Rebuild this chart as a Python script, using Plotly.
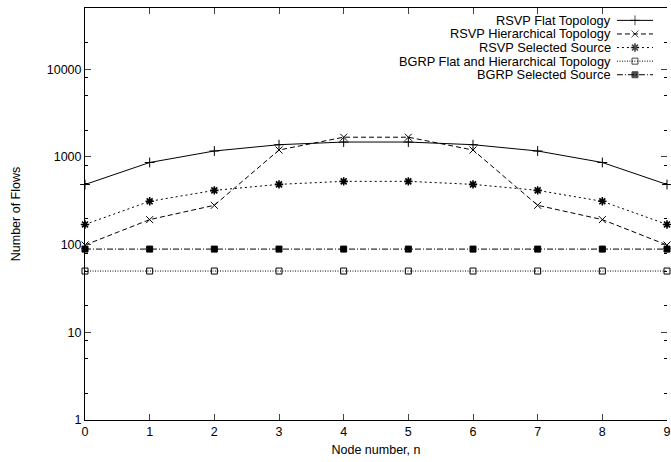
import plotly.graph_objects as go

nodes = [0, 1, 2, 3, 4, 5, 6, 7, 8, 9]
rsvp_flat = [485, 865, 1170, 1380, 1480, 1480, 1380, 1170, 865, 485]
rsvp_hier = [99, 193, 281, 1200, 1680, 1680, 1200, 281, 193, 99]
rsvp_sel = [170, 312, 416, 487, 527, 527, 487, 416, 312, 170]
bgrp_flat_hier = [50] * 10
bgrp_sel = [89] * 10

names = ["RSVP Flat Topology", "RSVP Hierarchical Topology", "RSVP Selected Source",
         "BGRP Flat and Hierarchical Topology", "BGRP Selected Source"]
series = [rsvp_flat, rsvp_hier, rsvp_sel, bgrp_flat_hier, bgrp_sel]
dashes = ["solid", "5px,3px", "2px,3px", "1px,1.5px", "6px,2px,1px,2px"]
symbols = ["cross-thin-open", "x-thin-open", "asterisk-open", "square-open", "square"]
msizes = [7, 7, 7, 6, 6]
mwidths = [1, 1, 1.6, 1, 1]

FONT = "Liberation Sans, Arial, sans-serif"
W, H = 671, 462
L, R, T, B = 85, 0, 8, 42

fig = go.Figure()
for name, ys, d, s, ms, mw in zip(names, series, dashes, symbols, msizes, mwidths):
    fig.add_trace(go.Scatter(
        x=nodes, y=ys, mode="lines+markers", name=name, showlegend=False,
        line=dict(color="black", width=1, dash=d),
        marker=dict(symbol=s, size=ms, color="black", line=dict(color="black", width=mw)),
        cliponaxis=False,
    ))

# custom legend (text left of sample, like gnuplot)
row_y = [0.970, 0.937, 0.904, 0.871, 0.838]
for i, (name, d, s, ms, mw) in enumerate(zip(names, dashes, symbols, msizes, mwidths)):
    fig.add_annotation(x=0.905, y=row_y[i], xref="paper", yref="paper", text=name,
                       showarrow=False, xanchor="right", yanchor="middle",
                       borderpad=0,
                       font=dict(family=FONT, size=12.8, color="black"))
    fig.add_trace(go.Scatter(
        x=[0.914, 0.945, 0.976], y=[row_y[i]] * 3, xaxis="x2", yaxis="y3",
        mode="lines+markers", showlegend=False, hoverinfo="skip",
        line=dict(color="black", width=1, dash=d),
        marker=dict(symbol=s, size=[0, ms, 0], color="black",
                    line=dict(color="black", width=mw)),
        cliponaxis=False,
    ))

# dummy trace to render the right-side tick axis
fig.add_trace(go.Scatter(x=[0], y=[1], yaxis="y2", mode="lines", showlegend=False,
                         hoverinfo="skip", line=dict(width=0)))

minor_vals = []
for dec in [1, 10, 100, 1000, 10000]:
    minor_vals += [2 * dec, 5 * dec, 8 * dec]
minor_vals = [v for v in minor_vals if v <= 50000]

fig.update_layout(
    width=W, height=H,
    margin=dict(l=L, r=R, t=T, b=B),
    paper_bgcolor="white", plot_bgcolor="white",
    font=dict(family=FONT, size=12.5, color="black"),
    showlegend=False,
    xaxis=dict(range=[0, 9], tickvals=nodes, ticks="inside", ticklen=6,
               showline=True, linecolor="black", linewidth=1, mirror="ticks",
               showgrid=False, zeroline=False, ticklabeloverflow="allow",
               title=dict(text="Node number, n", standoff=7, font=dict(size=12.5)),
               tickfont=dict(size=12.5)),
    yaxis=dict(type="log", range=[0, 4.69897], tickvals=[1, 10, 100, 1000, 10000],
               ticktext=["1", "10", "100", "1000", "10000"],
               ticks="inside", ticklen=6, showline=True, linecolor="black", linewidth=1,
               mirror=False, showgrid=False, zeroline=False,
               minor=dict(tickvals=minor_vals, ticks="inside", ticklen=3,
                          tickcolor="black", showgrid=False),
               title=dict(text="Number of Flows", standoff=23, font=dict(size=12.5)),
               tickfont=dict(size=12.5)),
    yaxis2=dict(type="log", range=[0, 4.69897], overlaying="y", side="right",
                tickvals=[1, 10, 100, 1000, 10000], ticks="inside", ticklen=6,
                showticklabels=False, showline=False, showgrid=False, zeroline=False,
                minor=dict(tickvals=minor_vals, ticks="inside", ticklen=3,
                           tickcolor="black", showgrid=False)),
    xaxis2=dict(range=[0, 1], overlaying="x", visible=False),
    yaxis3=dict(range=[0, 1], overlaying="y", visible=False),
)

fig.write_html("out.html")
